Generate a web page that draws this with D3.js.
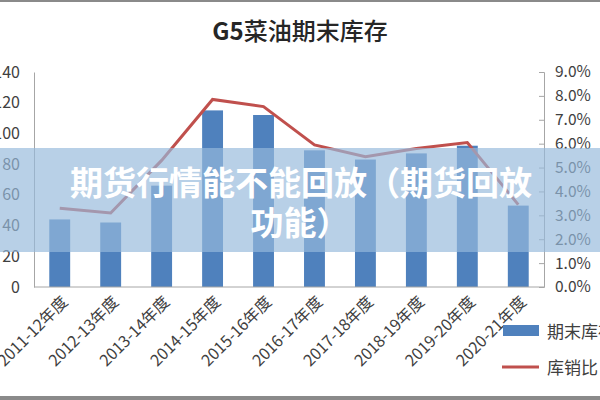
<!DOCTYPE html>
<meta charset="utf-8">
<script src="https://cdn.jsdelivr.net/npm/d3@7"></script>
<style>
    body { margin: 0; background: #fff; }
    .t { font-family: "Noto Sans CJK SC", "DejaVu Sans", sans-serif; }
</style>
<body>
<script>
var years = ["2011-12年度", "2012-13年度", "2013-14年度", "2014-15年度", "2015-16年度",
             "2016-17年度", "2017-18年度", "2018-19年度", "2019-20年度", "2020-21年度"];
var stock = [44, 42, 66, 115, 112, 89, 83, 87, 92, 53];          // 期末库存
var ratio = [3.3, 3.1, 5.3, 7.85, 7.55, 5.95, 5.45, 5.8, 6.05, 3.45]; // 库销比 %
var leftTicks = [0, 20, 40, 60, 80, 100, 120, 140];
var rightTicks = [0, 1, 2, 3, 4, 5, 6, 7, 8, 9];

var width = 600, height = 400;
var svg = d3.select("body").append("svg")
    .attr("width", width)
    .attr("height", height);

var x = d3.scaleBand().domain(years).range([34, 544]).paddingInner(0.59).paddingOuter(0.3);
var y = d3.scaleLinear().domain([0, 140]).range([287, 72]);
var y2 = d3.scaleLinear().domain([0, 9]).range([287, 72]);

// frame lines top/bottom
svg.append("rect").attr("x", 0).attr("y", 0).attr("width", width).attr("height", 2).style("fill", "#8a8a8a");
svg.append("rect").attr("x", 0).attr("y", 396).attr("width", width).attr("height", 4).style("fill", "#8a8a8a");

var title = svg.append("text")
    .attr("class", "t")
    .attr("x", 300).attr("y", 40)
    .attr("text-anchor", "middle")
    .attr("font-size", "24px")
    .style("fill", "#262626");
title.append("tspan").attr("font-weight", "bold").text("G5");
title.append("tspan").attr("font-weight", "500").text("菜油期末库存");

// left axis
var ax = svg.append("g").attr("transform", "translate(34,0)")
    .call(d3.axisLeft(y).tickValues(leftTicks).tickSize(0).tickPadding(14));
ax.select(".domain").attr("stroke", "#a6a6a6");
ax.selectAll("text").attr("class", "t").attr("font-size", "16px").style("fill", "#404040");

// right axis
var ax2 = svg.append("g").attr("transform", "translate(544,0)")
    .call(d3.axisRight(y2).tickValues(rightTicks).tickSize(-5).tickPadding(11)
        .tickFormat(function(d) { return d.toFixed(1) + "%"; }));
ax2.select(".domain").attr("stroke", "#a6a6a6");
ax2.selectAll("line").attr("stroke", "#a6a6a6");
ax2.selectAll("text").attr("class", "t").attr("font-size", "15.5px").style("fill", "#404040");

// bars
svg.selectAll("rect.bar")
    .data(stock)
    .enter().append("rect")
    .attr("class", "bar")
    .style("fill", "#4F81BD")
    .attr("x", function(d, i) { return x(years[i]); })
    .attr("width", x.bandwidth())
    .attr("y", function(d) { return y(d); })
    .attr("height", function(d) { return y(0) - y(d); });

// baseline
svg.append("line").attr("x1", 34).attr("x2", 544).attr("y1", 287).attr("y2", 287)
    .attr("stroke", "#a6a6a6");

// ratio line
var line = d3.line()
    .x(function(d, i) { return x(years[i]) + x.bandwidth() / 2; })
    .y(function(d) { return y2(d); });
svg.append("path")
    .datum(ratio)
    .attr("d", line)
    .style("fill", "none")
    .style("stroke", "#C0504D")
    .style("stroke-width", 3);

// x labels
svg.selectAll("text.xl")
    .data(years)
    .enter().append("text")
    .attr("class", "t")
    .attr("text-anchor", "end")
    .attr("font-size", "16px")
    .style("fill", "#404040")
    .attr("transform", function(d) {
        return "translate(" + (x(d) + x.bandwidth() / 2 + 9) + ",303) rotate(-45)";
    })
    .text(function(d) { return d; });

// legend
svg.append("rect").attr("x", 503).attr("y", 325).attr("width", 36).attr("height", 11).style("fill", "#4F81BD");
svg.append("text").attr("class", "t").attr("x", 547).attr("y", 338).attr("font-size", "17px")
    .style("fill", "#404040").text("期末库存");
svg.append("line").attr("x1", 502).attr("x2", 539).attr("y1", 367).attr("y2", 367)
    .style("stroke", "#C0504D").style("stroke-width", 3);
svg.append("text").attr("class", "t").attr("x", 547).attr("y", 374).attr("font-size", "17px")
    .style("fill", "#404040").text("库销比");

// overlay banner
svg.append("rect").attr("x", 0).attr("y", 148).attr("width", width).attr("height", 104)
    .style("fill", "rgb(150,185,220)").style("opacity", 0.68);
svg.append("text").attr("class", "t").attr("x", 301).attr("y", 195)
    .attr("text-anchor", "middle").attr("font-size", "33px").attr("font-weight", "bold")
    .style("fill", "#fff")
    .text("期货行情能不能回放（期货回放");
svg.append("text").attr("class", "t").attr("x", 300).attr("y", 235)
    .attr("text-anchor", "middle").attr("font-size", "33px").attr("font-weight", "bold")
    .style("fill", "#fff")
    .text("功能）");
</script>
</body>
